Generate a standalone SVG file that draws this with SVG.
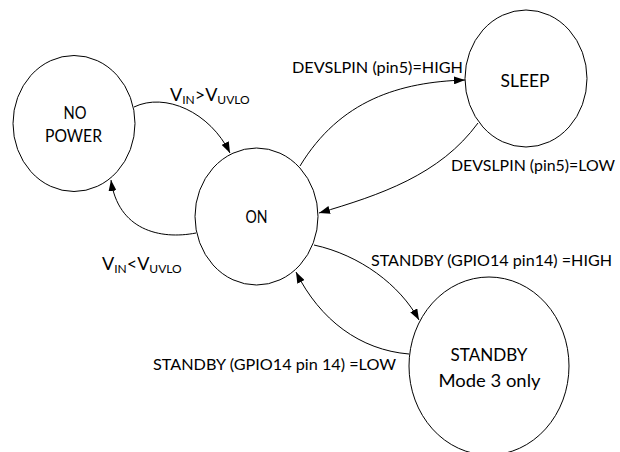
<svg xmlns="http://www.w3.org/2000/svg" width="620" height="452" viewBox="0 0 620 452">
<style>
.st{fill:#fff;stroke:#000;stroke-width:1}
.t{font-family:Lato,"Open Sans","Liberation Sans",sans-serif;fill:#000}
.n{font-size:18px;text-anchor:middle}
.l{font-size:16px}
.c{fill:none;stroke:#000;stroke-width:1;marker-end:url(#ah)}
</style>
<defs>
<marker id="ah" viewBox="0 0 11 8" refX="11" refY="4" markerWidth="11" markerHeight="8" markerUnits="userSpaceOnUse" orient="auto">
<path d="M0,0 L11,4 L0,8 Z" fill="#000"/>
</marker>
</defs>
<rect width="620" height="452" fill="#fff"/>
<g id="connectors">
<path class="c" d="M134,107 C165,92 210,112 230,153"/>
<path class="c" d="M196,233 C160,240 118,230 111,180"/>
<path class="c" d="M300,166 C340,100 400,82 465,80"/>
<path class="c" d="M478,123 C440,175 380,195 319,213"/>
<path class="c" d="M314,245 C360,255 400,285 419,320"/>
<path class="c" d="M409,354 C360,350 320,320 296,272"/>
</g>
<g id="no-power">
<ellipse class="st" cx="74" cy="123.5" rx="61" ry="68"/>
<text class="t n" x="75" y="119" textLength="23" lengthAdjust="spacingAndGlyphs">NO</text>
<text class="t n" x="73.5" y="142" textLength="57" lengthAdjust="spacingAndGlyphs">POWER</text>
</g>
<g id="on">
<ellipse class="st" cx="256.5" cy="216.5" rx="61.5" ry="68.5"/>
<text class="t n" x="256.5" y="223" textLength="22" lengthAdjust="spacingAndGlyphs">ON</text>
</g>
<g id="sleep">
<ellipse class="st" cx="526" cy="78.5" rx="61" ry="68.5"/>
<text class="t n" x="525" y="87" textLength="49" lengthAdjust="spacingAndGlyphs">SLEEP</text>
</g>
<g id="standby">
<ellipse class="st" cx="489" cy="366" rx="80" ry="89"/>
<text class="t n" x="489" y="360.5" textLength="77" lengthAdjust="spacingAndGlyphs">STANDBY</text>
<text class="t n" x="489.5" y="387" textLength="102" lengthAdjust="spacingAndGlyphs">Mode 3 only</text>
</g>
<g id="labels">
<text class="t" x="170" y="101" font-size="18">V<tspan font-size="12" dy="3">IN</tspan><tspan dy="-3">&gt;V</tspan><tspan font-size="12" dy="3">UVLO</tspan></text>
<text class="t" x="102" y="270" font-size="18">V<tspan font-size="12" dy="3">IN</tspan><tspan dy="-3">&lt;V</tspan><tspan font-size="12" dy="3">UVLO</tspan></text>
<text class="t l" x="292" y="73" textLength="171" lengthAdjust="spacingAndGlyphs">DEVSLPIN (pin5)=HIGH</text>
<text class="t l" x="451" y="171" textLength="164" lengthAdjust="spacingAndGlyphs">DEVSLPIN (pin5)=LOW</text>
<text class="t l" x="371" y="266" textLength="241" lengthAdjust="spacingAndGlyphs">STANDBY (GPIO14 pin14) =HIGH</text>
<text class="t l" x="153" y="370" textLength="243" lengthAdjust="spacingAndGlyphs">STANDBY (GPIO14 pin 14) =LOW</text>
</g>
</svg>
